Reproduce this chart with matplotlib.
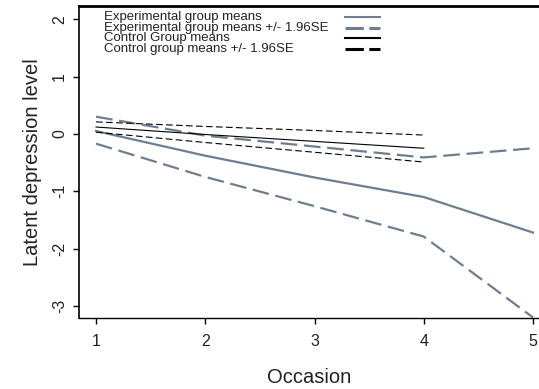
import matplotlib
matplotlib.use("Agg")
import matplotlib.pyplot as plt
from matplotlib.lines import Line2D

plt.rcParams['font.family'] = ['Liberation Sans', 'DejaVu Sans']
plt.rcParams['axes.unicode_minus'] = False

# 数据
occasion = [1, 2, 3, 4, 5]
exp_mean = [0.05, -0.38, -0.76, -1.10, -1.72]
exp_upper = [0.30, -0.03, -0.22, -0.41, -0.25]
exp_lower = [-0.17, -0.75, -1.26, -1.79, -3.20]

occasion_ctrl = [1, 2, 3, 4]
ctrl_mean = [0.12, -0.01, -0.13, -0.25]
ctrl_upper = [0.21, 0.13, 0.06, -0.02]
ctrl_lower = [0.03, -0.15, -0.32, -0.49]

labels = ["Experimental group means",
          "Experimental group means +/- 1.96SE",
          "Control Group means",
          "Control group means +/- 1.96SE"]

gray = '#6e7e90'

fig = plt.figure(figsize=(5.39, 3.89), dpi=100)
ax = fig.add_axes([0.1466, 0.1825, 0.8534, 0.802])

ax.plot(occasion, exp_mean, color=gray, lw=1.6)
ax.plot(occasion, exp_upper, color=gray, lw=1.6, dashes=(7.5, 3))
ax.plot(occasion, exp_lower, color=gray, lw=1.6, dashes=(7.5, 3))
ax.plot(occasion_ctrl, ctrl_mean, color='black', lw=0.8)
ax.plot(occasion_ctrl, ctrl_upper, color='black', lw=0.8, dashes=(6, 3))
ax.plot(occasion_ctrl, ctrl_lower, color='black', lw=0.8, dashes=(6, 3))

ax.set_xlim(0.844, 5.055)
ax.set_ylim(-3.21, 2.23)
ax.set_xticks(occasion)
ax.set_yticks([-3, -2, -1, 0, 1, 2])
ax.tick_params(direction='out', length=4.5, width=1, labelsize=11.5, pad=4,
               labelcolor='#222222')
ax.tick_params(axis='x', pad=7)
for t in ax.get_yticklabels():
    t.set_rotation(90)
    t.set_va('center')

ax.spines['right'].set_visible(False)
ax.spines['top'].set_linewidth(2)
ax.spines['left'].set_linewidth(1.2)
ax.spines['bottom'].set_linewidth(1)

ax.set_xlabel("Occasion", fontsize=14.5, labelpad=14, color='#222222')
ax.set_ylabel("Latent depression level", fontsize=14.5, labelpad=7, color='#222222')

# 图例（Stata风格：文字在左，线条在右）
styles = [dict(color=gray, lw=1.5),
          dict(color=gray, lw=2.2, dashes=(6, 1.8)),
          dict(color='black', lw=1.5),
          dict(color='black', lw=2.2, dashes=(6, 1.8))]
row_y = [0.965, 0.930, 0.896, 0.862]
for lab, st, yy in zip(labels, styles, row_y):
    ax.text(0.055, yy, lab, transform=ax.transAxes, fontsize=9.5,
            va='center', ha='left', color='#222222')
    ax.add_line(Line2D([0.578, 0.654], [yy, yy], transform=ax.transAxes, **st))

fig.savefig("out.png", dpi=100)
